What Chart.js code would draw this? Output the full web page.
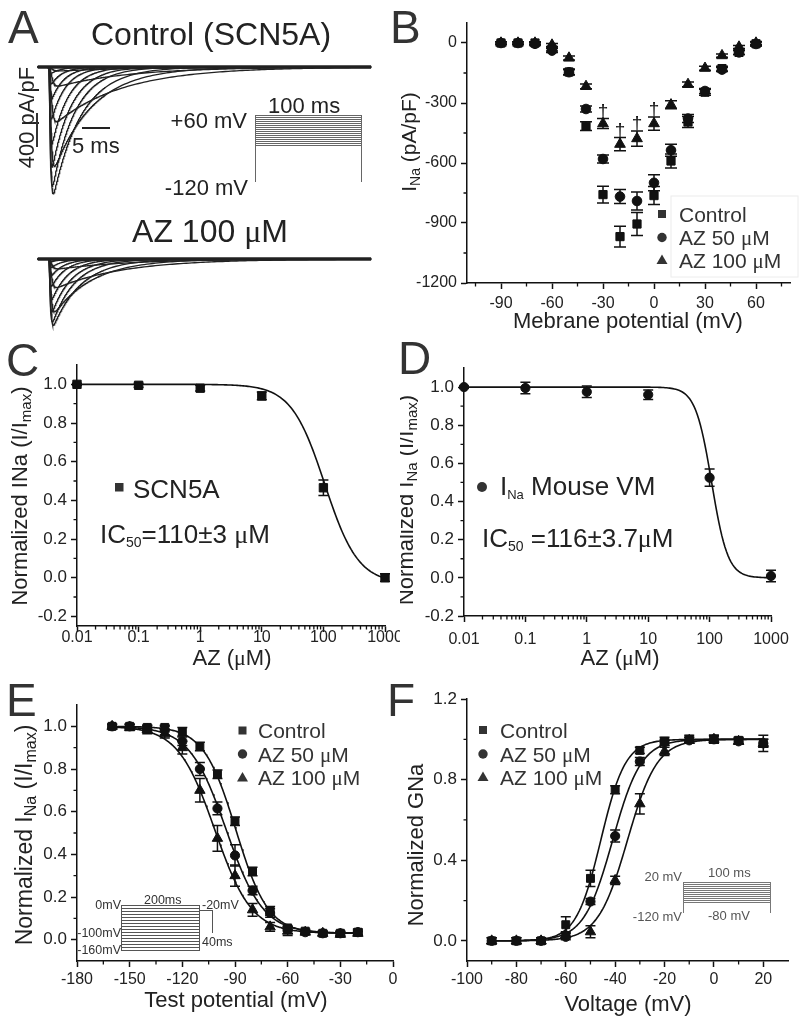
<!DOCTYPE html>
<html>
<head>
<meta charset="utf-8">
<script src="https://cdn.jsdelivr.net/npm/chart.js@4/dist/chart.umd.min.js"></script>
<style>
html, body { margin: 0; padding: 0; background: #fff; }
#fig { position: relative; width: 800px; height: 1027px; overflow: hidden; }
#fig canvas { position: absolute; display: block; }
#ann { position: absolute; left: 0; top: 0; pointer-events: none; }
</style>
</head>
<body>
<div id="fig">
  <canvas id="cA1" width="345" height="160" style="left:30px;top:50px"></canvas>
  <canvas id="cA2" width="345" height="100" style="left:30px;top:245px"></canvas>
  <canvas id="cB" width="400" height="340" style="left:400px;top:0px"></canvas>
  <canvas id="cC" width="400" height="340" style="left:0px;top:340px"></canvas>
  <canvas id="cD" width="400" height="340" style="left:400px;top:340px"></canvas>
  <canvas id="cE" width="400" height="347" style="left:0px;top:680px"></canvas>
  <canvas id="cF" width="400" height="347" style="left:400px;top:680px"></canvas>

  <svg id="ann" width="800" height="1027" viewBox="0 0 800 1027" xmlns="http://www.w3.org/2000/svg">
    <defs><clipPath id="clipD"><rect x="400" y="340" width="400" height="340"/></clipPath></defs>
    <g font-family="Liberation Sans, Arial, sans-serif" fill="#222">
      <!-- panel letters -->
      <g font-size="46" fill="#333">
        <text x="8" y="43">A</text>
        <text x="390" y="43">B</text>
        <text x="6" y="376">C</text>
        <text x="398" y="374">D</text>
        <text x="6" y="716">E</text>
        <text x="387" y="716">F</text>
      </g>

      <!-- A -->
      <text x="211" y="45" font-size="32" text-anchor="middle">Control (SCN5A)</text>
      <text x="210" y="242" font-size="32" text-anchor="middle">AZ 100 <tspan font-family="Liberation Serif">μ</tspan>M</text>
      <text x="247" y="128" font-size="22" text-anchor="end">+60 mV</text>
      <text x="268" y="113" font-size="22">100 ms</text>
      <text x="248" y="195" font-size="22" text-anchor="end">-120 mV</text>
      <text x="72" y="153" font-size="22">5 ms</text>
      <text transform="translate(34,117.5) rotate(-90)" font-size="22" text-anchor="middle">400 pA/pF</text>
      <line x1="37" y1="113" x2="37" y2="147" stroke="#333" stroke-width="2"/>
      <line x1="82" y1="128" x2="110" y2="128" stroke="#222" stroke-width="2"/>
      <g id="protoA" stroke="#666" stroke-width="1" shape-rendering="crispEdges"></g>

      <!-- B -->
      <text transform="translate(416,142) rotate(-90)" font-size="21" text-anchor="middle">I<tspan font-size="14" dy="4">Na</tspan><tspan dy="-4"> (pA/pF)</tspan></text>
      <text x="628" y="328" font-size="22" text-anchor="middle">Mebrane potential (mV)</text>
      <rect x="671" y="196" width="127" height="81" fill="none" stroke="#ececec"/>
      <g font-size="21" fill="#333">
        <rect x="658" y="210" width="8" height="8"/>
        <text x="679" y="222">Control</text>
        <circle cx="662" cy="237.5" r="4.7"/>
        <text x="679" y="245">AZ 50 <tspan font-family="Liberation Serif">μ</tspan>M</text>
        <polygon points="662,254.5 667.5,264 656.5,264"/>
        <text x="679" y="267.5">AZ 100 <tspan font-family="Liberation Serif">μ</tspan>M</text>
      </g>

      <!-- C -->
      <text transform="translate(27,496) rotate(-90)" font-size="22" text-anchor="middle">Normalized INa (I/I<tspan font-size="15" dy="4">max</tspan><tspan dy="-4">)</tspan></text>
      <text x="232" y="665" font-size="22" text-anchor="middle">AZ (<tspan font-family="Liberation Serif">μ</tspan>M)</text>
      <rect x="115" y="483" width="8.5" height="8.5" fill="#333"/>
      <text x="133" y="497.5" font-size="26">SCN5A</text>
      <text x="100" y="543" font-size="26">IC<tspan font-size="14" dy="4">50</tspan><tspan dy="-4">=110±3 </tspan><tspan font-family="Liberation Serif">μ</tspan>M</text>

      <!-- D -->
      <g clip-path="url(#clipD)">
        <text transform="translate(413,500) rotate(-90)" font-size="22" text-anchor="middle">Normalized I<tspan font-size="15" dy="4">Na</tspan><tspan dy="-4"> (I/I</tspan><tspan font-size="15" dy="4">max</tspan><tspan dy="-4">)</tspan></text>
      </g>
      <text x="620" y="665" font-size="22" text-anchor="middle">AZ (<tspan font-family="Liberation Serif">μ</tspan>M)</text>
      <circle cx="482" cy="487" r="5" fill="#333"/>
      <text x="500" y="495" font-size="26">I<tspan font-size="13" dy="4">Na</tspan><tspan dy="-4"> Mouse VM</tspan></text>
      <text x="482" y="547" font-size="26">IC<tspan font-size="14" dy="4">50</tspan><tspan dy="-4"> =116±3.7</tspan><tspan font-family="Liberation Serif">μ</tspan>M</text>

      <!-- E -->
      <text transform="translate(32,835) rotate(-90)" font-size="23" text-anchor="middle">Normalized I<tspan font-size="16" dy="4">Na</tspan><tspan dy="-4"> (I/I</tspan><tspan font-size="16" dy="4">max</tspan><tspan dy="-4">)</tspan></text>
      <text x="236" y="1007" font-size="22" text-anchor="middle">Test potential (mV)</text>
      <g font-size="21" fill="#333">
        <rect x="238.5" y="726.5" width="8" height="8"/>
        <text x="258" y="738">Control</text>
        <circle cx="242.5" cy="754" r="4.7"/>
        <text x="258" y="761.5">AZ 50 <tspan font-family="Liberation Serif">μ</tspan>M</text>
        <polygon points="242.5,772 248,781.5 237,781.5"/>
        <text x="258" y="785">AZ 100 <tspan font-family="Liberation Serif">μ</tspan>M</text>
      </g>
      <g id="protoE" stroke="#555" stroke-width="1" shape-rendering="crispEdges"></g>
      <g font-size="12.5" fill="#333">
        <text x="121" y="908.5" text-anchor="end">0mV</text>
        <text x="144" y="903.5">200ms</text>
        <text x="202" y="908.5">-20mV</text>
        <text x="202" y="945.5">40ms</text>
        <text x="121" y="936.5" text-anchor="end">-100mV</text>
        <text x="121" y="954" text-anchor="end">-160mV</text>
      </g>

      <!-- F -->
      <text transform="translate(423,845) rotate(-90)" font-size="22" text-anchor="middle">Normalized GNa</text>
      <text x="628" y="1011" font-size="22" text-anchor="middle">Voltage (mV)</text>
      <g font-size="21" fill="#333">
        <rect x="479" y="726" width="8" height="8"/>
        <text x="500" y="738">Control</text>
        <circle cx="483" cy="754" r="4.7"/>
        <text x="500" y="762">AZ 50 <tspan font-family="Liberation Serif">μ</tspan>M</text>
        <polygon points="483,771.5 488.5,781 477.5,781"/>
        <text x="500" y="784.5">AZ 100 <tspan font-family="Liberation Serif">μ</tspan>M</text>
      </g>
      <g id="protoF" stroke="#777" stroke-width="1" shape-rendering="crispEdges"></g>
      <g font-size="13" fill="#555">
        <text x="682" y="881" text-anchor="end">20 mV</text>
        <text x="708" y="877">100 ms</text>
        <text x="682" y="921" text-anchor="end">-120 mV</text>
        <text x="708" y="919.5">-80 mV</text>
      </g>
    </g>
  </svg>
</div>

<script>
// ---------- data ----------
// panel B: I-V relation (step potentials in mV, current in pA/pF)
const stepV = [-90, -80, -70, -60, -50, -40, -30, -20, -10, 0, 10, 20, 30, 40, 50, 60];
const ivCtrl = [0, 0, 0, -30, -145, -416, -758, -968, -905, -763, -590, -395, -246, -128, -47, -4];
const ivCtrlErr = [6, 6, 6, 10, 15, 22, 42, 52, 58, 45, 35, 28, 15, 12, 10, 10];
const ivAz50 = [0, 0, -4, -38, -146, -330, -580, -768, -790, -699, -536, -378, -240, -133, -47, -5];
const ivAz50Err = [6, 6, 6, 10, 12, 15, 20, 35, 45, 40, 30, 20, 12, 10, 10, 10];
const ivAz100 = [0, 0, 0, -10, -75, -217, -403, -506, -478, -403, -309, -207, -126, -63, -20, 0];
const ivAz100Err = [6, 6, 6, 8, 10, 12, 25, 33, 38, 33, 20, 12, 10, 8, 8, 8];
const daggerV = [-30, -20, -10, 0];

// panel A: gating time constants (ms) of the current traces, one per step
const tauM = [0.5, 0.5, 0.45, 0.4, 0.35, 0.28, 0.22, 0.17, 0.14, 0.12, 0.11, 0.1, 0.1, 0.1, 0.1, 0.1];
const tauH = [10, 10, 14, 14, 13, 12, 7, 5, 4, 3.5, 3, 2.6, 2.3, 2, 1.8, 1.6];

// panels C and D: concentration-response
const azConc = [0.01, 0.1, 1, 10, 100, 1000];
const scn5a = [1.0, 0.995, 0.98, 0.94, 0.465, 0.0];
const scn5aErr = [0.006, 0.01, 0.015, 0.02, 0.04, 0.02];
const mouseVM = [1.0, 0.995, 0.975, 0.96, 0.525, 0.01];
const mouseVMErr = [0.006, 0.03, 0.03, 0.025, 0.045, 0.03];
const hillC = [105, 1.6, -0.03];   // IC50, slope, bottom
const hillD = [108, 3.3, 0];

// panel E: steady-state inactivation
const ssiV = [-160, -150, -140, -130, -120, -110, -100, -90, -80, -70, -60, -50, -40, -30, -20];
const ssiCtrl = [1.0, 1.0, 0.995, 0.995, 0.975, 0.905, 0.775, 0.555, 0.32, 0.135, 0.055, 0.04, 0.03, 0.03, 0.035];
const ssiCtrlErr = [0.01, 0.01, 0.01, 0.01, 0.02, 0.02, 0.02, 0.02, 0.02, 0.02, 0.01, 0.01, 0.01, 0.01, 0.015];
const ssiAz50 = [1.0, 1.0, 0.99, 0.98, 0.93, 0.80, 0.615, 0.395, 0.23, 0.125, 0.05, 0.035, 0.03, 0.03, 0.035];
const ssiAz50Err = [0.01, 0.01, 0.01, 0.02, 0.02, 0.03, 0.03, 0.05, 0.02, 0.02, 0.01, 0.01, 0.01, 0.01, 0.01];
const ssiAz100 = [1.0, 0.995, 0.985, 0.965, 0.9, 0.70, 0.475, 0.30, 0.14, 0.06, 0.04, 0.035, 0.03, 0.025, 0.03];
const ssiAz100Err = [0.01, 0.015, 0.02, 0.02, 0.03, 0.055, 0.06, 0.05, 0.03, 0.02, 0.02, 0.01, 0.01, 0.01, 0.01];
const boltzE = [[-89.5, 9.2], [-95, 10.5], [-101.5, 10.5]];   // V1/2, k
const ssiFloor = 0.03;

// panel F: activation
const actV = [-90, -80, -70, -60, -50, -40, -30, -20, -10, 0, 10, 20];
const gCtrl = [0, 0, 0, 0.08, 0.31, 0.75, 0.945, 0.99, 1.0, 1.0, 0.995, 0.98];
const gCtrlErr = [0.015, 0.015, 0.015, 0.04, 0.04, 0.02, 0.015, 0.02, 0.02, 0.02, 0.015, 0.04];
const gAz50 = [0, 0, 0, 0.02, 0.195, 0.52, 0.89, 0.985, 0.995, 1.0, 0.99, 0.98];
const gAz50Err = [0.015, 0.015, 0.015, 0.015, 0.015, 0.03, 0.02, 0.015, 0.015, 0.015, 0.015, 0.02];
const gAz100 = [0, 0, 0, 0.03, 0.045, 0.30, 0.68, 0.94, 0.995, 1.0, 0.99, 0.98];
const gAz100Err = [0.015, 0.015, 0.015, 0.015, 0.03, 0.02, 0.05, 0.02, 0.015, 0.02, 0.015, 0.02];
const boltzF = [[-45.8, 5], [-41, 5.8], [-35, 6]];

// tick labels
const tickBx = [-90, -60, -30, 0, 30, 60];
const tickBy = [-1200, -900, -600, -300, 0];
const tickCDx = [0.01, 0.1, 1, 10, 100, 1000];
const tickCDy = [-0.2, 0, 0.2, 0.4, 0.6, 0.8, 1.0];
const tickEx = [-180, -150, -120, -90, -60, -30, 0];
const tickEy = [0, 0.2, 0.4, 0.6, 0.8, 1.0];
const tickFx = [-100, -80, -60, -40, -20, 0, 20];
const tickFy = [0, 0.4, 0.8, 1.2];

// ---------- helpers ----------
Chart.defaults.font.family = '"Liberation Sans", Arial, sans-serif';
Chart.defaults.color = '#222';

function range(a, b, s) {
  const out = [];
  for (let v = a; v <= b + 1e-9; v += s) out.push(+v.toFixed(6));
  return out;
}
function logMinor(d0, d1) {
  const out = [];
  for (let d = d0; d < d1; d++) for (let k = 2; k <= 9; k++) out.push(k * Math.pow(10, d));
  return out;
}
function pts(xs, ys) { return xs.map((x, i) => ({x: x, y: ys[i]})); }

function markers(xs, ys, err, style, r) {
  return {data: pts(xs, ys), yErr: err, pointStyle: style, pointRadius: r,
    backgroundColor: '#111', borderColor: '#111', borderWidth: 1, showLine: false, clip: false};
}
function fitLine(data) {
  return {data: data, showLine: true, pointRadius: 0, borderColor: '#111', borderWidth: 1.6, clip: false};
}
function hillCurve(p) {
  const xs = range(-2, 3, 0.025).map(e => Math.pow(10, e));
  return xs.map(x => ({x: x, y: p[2] + (1 - p[2]) / (1 + Math.pow(x / p[0], p[1]))}));
}
function inactCurve(p) {
  return range(-160, -20, 0.5).map(v => ({x: v, y: ssiFloor + (1 - ssiFloor) / (1 + Math.exp((v - p[0]) / p[1]))}));
}
function actCurve(p) {
  return range(-90, 20, 0.5).map(v => ({x: v, y: 1 / (1 + Math.exp((p[0] - v) / p[1]))}));
}

function axis(o) {
  return {
    type: o.type || 'linear', min: o.min, max: o.max,
    afterBuildTicks: s => { s.ticks = o.major.map(v => ({value: v})); },
    afterFit: s => {
      if (s.isHorizontal()) s.height = o.size; else s.width = o.size;
      s.paddingLeft = s.paddingRight = s.paddingTop = s.paddingBottom = 0;
    },
    grid: {drawOnChartArea: false, drawTicks: true, tickLength: 6, tickColor: '#111', tickWidth: 1.5},
    border: {display: true, color: '#111', width: 1.5},
    ticks: {autoSkip: false, maxRotation: 0, minRotation: 0, padding: o.pad, color: '#222',
      font: {size: o.fs}, callback: o.fmt}
  };
}

// error bars drawn under the markers
const errorBars = {
  id: 'errorBars',
  beforeDatasetsDraw(chart, args, opts) {
    const ctx = chart.ctx, ys = chart.scales.y;
    chart.data.datasets.forEach((ds, i) => {
      if (!ds.yErr) return;
      const meta = chart.getDatasetMeta(i);
      ctx.save();
      ctx.strokeStyle = '#111';
      ctx.lineWidth = opts.width || 1.5;
      meta.data.forEach((pt, j) => {
        const v = ds.data[j].y, e = ds.yErr[j];
        const y1 = ys.getPixelForValue(v + e), y2 = ys.getPixelForValue(v - e);
        const c = opts.cap || 5;
        ctx.beginPath();
        ctx.moveTo(pt.x, y1); ctx.lineTo(pt.x, y2);
        ctx.moveTo(pt.x - c, y1); ctx.lineTo(pt.x + c, y1);
        ctx.moveTo(pt.x - c, y2); ctx.lineTo(pt.x + c, y2);
        ctx.stroke();
      });
      ctx.restore();
    });
  }
};

// short unlabeled ticks between the major ones
const minorTicks = {
  id: 'minorTicks',
  afterDraw(chart, args, opts) {
    if (!opts.x && !opts.y) return;
    const ctx = chart.ctx, a = chart.chartArea, len = opts.len || 3.5;
    ctx.save();
    ctx.strokeStyle = '#111';
    ctx.lineWidth = 1.3;
    ctx.beginPath();
    (opts.x || []).forEach(v => {
      const px = chart.scales.x.getPixelForValue(v);
      ctx.moveTo(px, a.bottom); ctx.lineTo(px, a.bottom + len);
    });
    (opts.y || []).forEach(v => {
      const py = chart.scales.y.getPixelForValue(v);
      ctx.moveTo(a.left, py); ctx.lineTo(a.left - len, py);
    });
    ctx.stroke();
    ctx.restore();
  }
};

// significance daggers above chosen points
const daggers = {
  id: 'daggers',
  afterDatasetsDraw(chart, args, opts) {
    if (!opts.xs) return;
    const ds = chart.data.datasets[opts.dataset];
    const ctx = chart.ctx;
    ctx.save();
    ctx.fillStyle = '#111';
    ctx.font = '19px "Liberation Sans", Arial, sans-serif';
    ctx.textAlign = 'center';
    ctx.textBaseline = 'alphabetic';
    opts.xs.forEach(x => {
      const j = ds.data.findIndex(p => p.x === x);
      if (j < 0) return;
      const px = chart.scales.x.getPixelForValue(x);
      const py = chart.scales.y.getPixelForValue(ds.data[j].y + ds.yErr[j]);
      ctx.fillText('†', px, py - 2);
    });
    ctx.restore();
  }
};

function plot(id, datasets, xo, yo, pad, extra) {
  return new Chart(document.getElementById(id), {
    type: 'scatter',
    data: {datasets: datasets},
    options: {
      responsive: false, animation: false, events: [],
      layout: {padding: pad},
      scales: {x: axis(xo), y: axis(yo)},
      plugins: {
        legend: {display: false}, tooltip: {enabled: false},
        errorBars: extra.err || {}, minorTicks: extra.minor || {}, daggers: extra.daggers || {}
      }
    },
    plugins: [errorBars, minorTicks, daggers]
  });
}

const int = v => String(v);
const one = v => Number(v).toFixed(1);
const conc = v => String(v);

// ---------- A: current traces ----------
const traceTimes = range(-2, 10, 0.05).concat(range(10.5, 57.5, 0.5));
function trace(peak, tm, th) {
  const shape = traceTimes.map(t => t <= 0 ? 0 : Math.pow(1 - Math.exp(-t / tm), 3) * Math.exp(-t / th));
  const top = Math.max.apply(null, shape);
  return traceTimes.map((t, i) => ({x: t, y: top > 0 ? peak * shape[i] / top : 0}));
}
function traceChart(id, peaks, yMin, yMax) {
  const ds = peaks.map((p, i) => ({data: trace(p, tauM[i], tauH[i]), showLine: true, pointRadius: 0,
    borderColor: '#222', borderWidth: 1.35}));
  ds.push({data: [{x: -2, y: 0}, {x: 57.5, y: 0}], showLine: true, pointRadius: 0, borderColor: '#222', borderWidth: 3.5});
  return new Chart(document.getElementById(id), {
    type: 'scatter',
    data: {datasets: ds},
    options: {
      responsive: false, animation: false, events: [],
      layout: {padding: 0},
      scales: {
        x: {type: 'linear', display: false, min: -3.39, max: 58.2},
        y: {type: 'linear', display: false, min: yMin, max: yMax}
      },
      plugins: {legend: {display: false}, tooltip: {enabled: false}}
    }
  });
}
traceChart('cA1', ivCtrl, -1091.6, 129.8);
traceChart('cA2', ivAz100, -656.5, 106.9);

// ---------- B ----------
plot('cB', [
    markers(stepV, ivAz50, ivAz50Err, 'circle', 4.8),
    markers(stepV, ivCtrl, ivCtrlErr, 'rect', 5.8),
    markers(stepV, ivAz100, ivAz100Err, 'triangle', 6.2)
  ],
  {min: -110, max: 80, major: tickBx, size: 57, pad: 5, fs: 16, fmt: int},
  {min: -1200, max: 100, major: tickBy, size: 67, pad: 4, fs: 16, fmt: int},
  {left: 0, top: 23, right: 10, bottom: 0},
  {err: {cap: 6}, minor: {x: range(-105, 75, 30), y: [-1050, -750, -450, -150]},
   daggers: {dataset: 2, xs: daggerV}});

// ---------- C ----------
plot('cC', [
    markers(azConc, scn5a, scn5aErr, 'rect', 5.9),
    fitLine(hillCurve(hillC))
  ],
  {type: 'logarithmic', min: 0.01, max: 1000, major: tickCDx, size: 54, pad: -4, fs: 16, fmt: conc},
  {min: -0.25, max: 1.1, major: tickCDy, size: 77, pad: 4, fs: 17, fmt: one},
  {left: 0, top: 25, right: 15, bottom: 0},
  {err: {cap: 5}, minor: {x: logMinor(-2, 3), y: [-0.1, 0.1, 0.3, 0.5, 0.7, 0.9]}});

// ---------- D ----------
plot('cD', [
    markers(azConc, mouseVM, mouseVMErr, 'circle', 4.6),
    fitLine(hillCurve(hillD))
  ],
  {type: 'logarithmic', min: 0.01, max: 1000, major: tickCDx, size: 64, pad: 8, fs: 16, fmt: conc},
  {min: -0.2, max: 1.1, major: tickCDy, size: 64, pad: 4, fs: 17, fmt: one},
  {left: 0, top: 28, right: 29, bottom: 0},
  {err: {cap: 5}, minor: {x: logMinor(-2, 3), y: [-0.1, 0.1, 0.3, 0.5, 0.7, 0.9]}});

// ---------- E ----------
plot('cE', [
    markers(ssiV, ssiAz50, ssiAz50Err, 'circle', 4.6),
    markers(ssiV, ssiCtrl, ssiCtrlErr, 'rect', 5.6),
    markers(ssiV, ssiAz100, ssiAz100Err, 'triangle', 6),
    fitLine(inactCurve(boltzE[0])),
    fitLine(inactCurve(boltzE[1])),
    fitLine(inactCurve(boltzE[2]))
  ],
  {min: -180, max: 0, major: tickEx, size: 66, pad: 3, fs: 16, fmt: int},
  {min: -0.1, max: 1.1, major: tickEy, size: 77, pad: 4, fs: 17, fmt: one},
  {left: 0, top: 25, right: 7, bottom: 0},
  {err: {cap: 5}, minor: {x: range(-165, -15, 30), y: [0.1, 0.3, 0.5, 0.7, 0.9]}});

// ---------- F ----------
plot('cF', [
    markers(actV, gAz50, gAz50Err, 'circle', 4.6),
    markers(actV, gCtrl, gCtrlErr, 'rect', 5.6),
    markers(actV, gAz100, gAz100Err, 'triangle', 6),
    fitLine(actCurve(boltzF[0])),
    fitLine(actCurve(boltzF[1])),
    fitLine(actCurve(boltzF[2]))
  ],
  {min: -100, max: 30, major: tickFx, size: 66, pad: 3, fs: 16, fmt: int},
  {min: -0.1, max: 1.2, major: tickFy, size: 67, pad: 4, fs: 17, fmt: one},
  {left: 0, top: 19, right: 12, bottom: 0},
  {err: {cap: 5}, minor: {x: range(-90, 10, 20), y: [0.2, 0.6, 1.0]}});

// ---------- voltage-protocol insets ----------
const NS = 'http://www.w3.org/2000/svg';
function seg(g, x1, y1, x2, y2) {
  const l = document.createElementNS(NS, 'line');
  l.setAttribute('x1', x1); l.setAttribute('y1', y1);
  l.setAttribute('x2', x2); l.setAttribute('y2', y2);
  g.appendChild(l);
}
function protocol(id, x1, x2, yTop, step, n, yEnd) {
  const g = document.getElementById(id);
  for (let i = 0; i < n; i++) {
    const y = yTop + step * i + 0.5;
    seg(g, x1, y, x2, y);
  }
  seg(g, x1 + 0.5, yTop, x1 + 0.5, yEnd);
  seg(g, x2 + 0.5, yTop, x2 + 0.5, yEnd);
}
protocol('protoA', 255, 361, 115, 2, 16, 182);
protocol('protoE', 121, 199, 905, 3, 16, 951);
const gE = document.getElementById('protoE');
seg(gE, 199, 910.5, 212.5, 910.5);
seg(gE, 212.5, 910.5, 212.5, 933);
protocol('protoF', 683, 770, 882, 2, 11, 913);
</script>
</body>
</html>
